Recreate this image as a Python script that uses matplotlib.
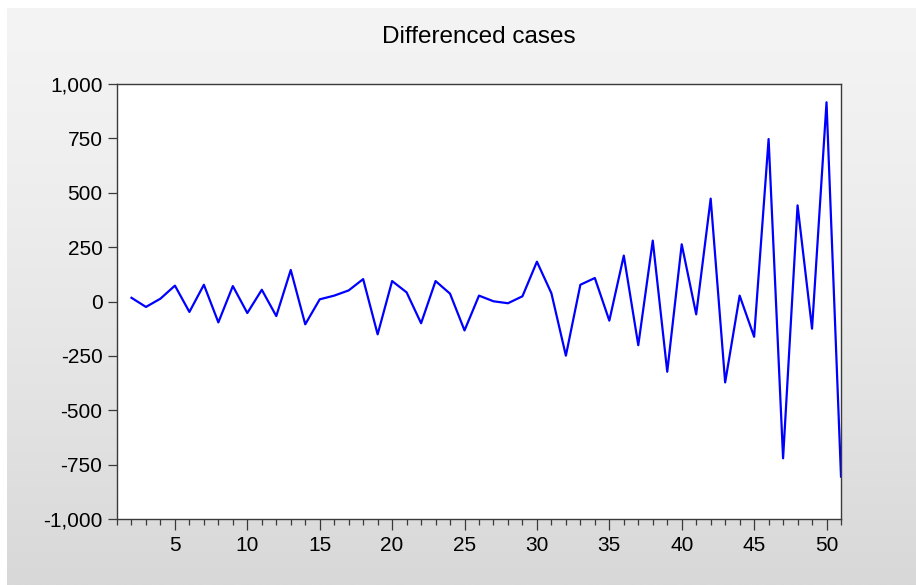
import numpy as np
import matplotlib
matplotlib.use("Agg")
import matplotlib.pyplot as plt
import matplotlib.ticker as mticker

# ── data ─────────────────────────────────────────────────────────────────────
obs = list(range(2, 52))
diff_cases = [
    17, -25, 13, 73, -48, 77, -96, 71, -53, 54,
    -67, 145, -105, 10, 27, 51, 103, -151, 94, 42,
    -100, 94, 36, -133, 27, 1, -8, 24, 183, 38,
    -249, 77, 108, -88, 211, -201, 280, -323, 263, -59,
    473, -372, 27, -162, 747, -721, 442, -125, 916, -805,
]
y_ticks = [-1000, -750, -500, -250, 0, 250, 500, 750, 1000]
x_major = [5, 10, 15, 20, 25, 30, 35, 40, 45, 50]

plt.rcParams.update({
    "font.family": ["Liberation Sans", "DejaVu Sans"],
    "font.size": 15,
})

W, H = 916, 585
fig = plt.figure(figsize=(W / 100, H / 100), dpi=100)
fig.patch.set_facecolor("white")

# ── grey gradient panel behind everything ────────────────────────────────────
bg = fig.add_axes([7 / W, 0, (W - 7) / W, (H - 8) / H])
bg.set_axis_off()
grad = np.linspace(0, 1, 256).reshape(-1, 1) ** 1.3
top = np.array([0xf4, 0xf4, 0xf4]) / 255
bot = np.array([0xd8, 0xd8, 0xd8]) / 255
img = top + (bot - top) * grad[..., None]
bg.imshow(img, aspect="auto", extent=[0, 1, 0, 1], origin="upper")
bg.set_xlim(0, 1)
bg.set_ylim(0, 1)

# ── main plot ────────────────────────────────────────────────────────────────
ax = fig.add_axes([117 / W, (H - 519) / H, (841 - 117) / W, (519 - 84) / H])
ax.set_facecolor("white")
ax.plot(obs, diff_cases, color="#0000ff", linewidth=1.6, zorder=3)

ax.set_xlim(1, 51)
ax.set_ylim(-1000, 1000)
ax.set_yticks(y_ticks)
ax.yaxis.set_major_formatter(mticker.FuncFormatter(lambda v, _: f"{int(v):,}"))
ax.set_xticks(x_major)
ax.xaxis.set_minor_locator(mticker.MultipleLocator(1))

for s in ax.spines.values():
    s.set_color("#3a3a3a")
    s.set_linewidth(1.0)

ax.tick_params(axis="y", which="major", direction="out", length=6.5,
               width=0.9, color="#3a3a3a", pad=4, labelsize=15)
ax.tick_params(axis="x", which="major", direction="out", length=8,
               width=0.9, color="#3a3a3a", pad=4, labelsize=15)
ax.tick_params(axis="x", which="minor", direction="out", length=4.5,
               width=0.9, color="#3a3a3a")

fig.text(479 / W, 1 - 37 / H, "Differenced cases", ha="center", va="center",
         fontsize=17.5)

fig.savefig("out.png", dpi=100)
